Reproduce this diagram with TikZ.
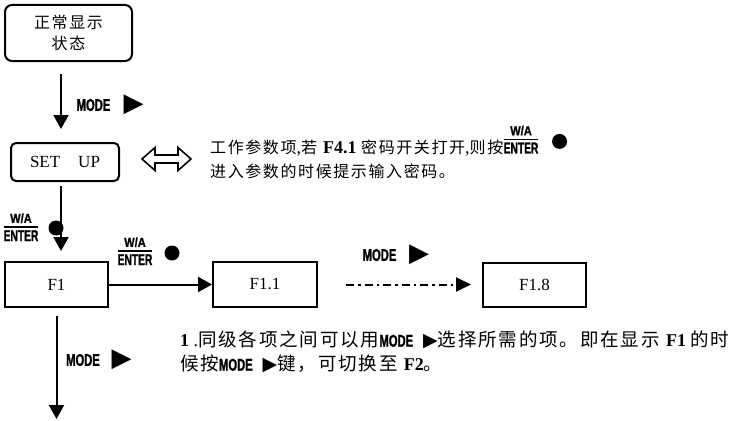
\documentclass[tikz,border=0pt]{standalone}
\usepackage{fontspec}
\setmainfont{Liberation Serif}
\newfontfamily\cjk[LetterSpace=10]{Noto Sans CJK SC}
\newfontfamily\keyfont[FakeStretch=0.66,FakeBold=1.2]{Liberation Sans}
\newfontfamily\keyfontb[FakeStretch=0.85,FakeBold=1.2]{Liberation Sans}
\newfontfamily\symfont{DejaVu Sans}
\usetikzlibrary{arrows.meta,calc}
\newcommand\modeword{{\keyfont\bfseries\fontsize{17}{17}\selectfont MODE}}
\newcommand\tri[1]{{\symfont\fontsize{#1}{#1}\selectfont ▶}}
\newcommand\modekey{\modeword\hspace{10pt}\tri{19}}
\newcommand\lat[1]{{\rmfamily\fontsize{18}{20}\selectfont #1}}
\newcommand\waenter{{\setlength\arrayrulewidth{1.6pt}\setlength\tabcolsep{0pt}%
  \begin{tabular}[b]{c}{\keyfontb\bfseries\fontsize{13}{12}\selectfont W/A}\\\hline
  \rule{0pt}{13pt}{\keyfont\bfseries\fontsize{15.5}{12}\selectfont ENTER}\end{tabular}}}
\begin{document}
\begin{tikzpicture}[x=1pt,y=-1pt,
  box/.style={draw,line width=2pt,inner sep=0pt,font=\fontsize{17}{17}\selectfont},
  rbox/.style={box,rounded corners=7pt},
  arr/.style={line width=2pt,-{Triangle[length=14pt,width=15pt]}},
  keylbl/.style={inner sep=0pt},
  dot/.style={circle,fill=black,inner sep=0pt,minimum size=15pt},
  txt/.style={inner sep=0pt,anchor=west}
]
\useasboundingbox (0,0) rectangle (738,420);
% boxes
\node[rbox,minimum width=127pt,minimum height=56pt,align=center,
  font=\cjk\fontsize{16}{21}\selectfont] (top) at (68.5,33) {正常显示\\状态};
\node[rbox,rounded corners=5pt,minimum width=108pt,minimum height=38pt] (setup) at (65,162)
  {SET\hspace{18pt}UP\hspace{11pt}};
\node[box,minimum width=103pt,minimum height=45pt] (f1) at (56.5,284.5) {F1};
\node[box,minimum width=104pt,minimum height=45pt] (f11) at (265,284.5) {F1.1};
\node[box,minimum width=103pt,minimum height=44pt] (f18) at (534.5,284.5) {F1.8};
% connectors
\coordinate (xa) at (61,0);
\coordinate (bot) at (56.5,419);
\draw[arr] ($(top.south -| xa)+(0,12)$) -- ($(setup.north -| xa)+(0,-13)$);
\draw[arr] ($(setup.south -| xa)+(0,4)$) -- ($(f1.north -| xa)+(0,-10)$);
\draw[arr] (f1.east) -- (f11.west);
\draw[line width=2pt,dash pattern=on 8pt off 4pt on 2.5pt off 4pt,
  -{Triangle[length=15pt,width=14pt]}] ($(f11.east)+(28,0)$) -- ($(f18.west)+(-11,0)$);
\draw[arr] ($(f1.south)+(0,8)$) -- (bot);
% double arrow
\draw[line width=1.6pt,fill=white] (142,159) -- (155,147.5) -- (155,155) -- (178,155)
  -- (178,147.5) -- (191,159) -- (178,170.5) -- (178,163) -- (155,163) -- (155,170.5) -- cycle;
% MODE labels
\node[keylbl] (m1) at (93.5,105) {\modeword};
\node[keylbl] (t1) at (133.5,105) {\tri{26}};
\node[keylbl] (m2) at (379.5,255) {\modeword};
\node[keylbl] (t2) at (419,255) {\tri{26}};
\node[keylbl] (m3) at (83,360) {\modeword};
\node[keylbl] (t3) at (121.5,360) {\tri{26}};
% W/A ENTER labels and dots
\node[keylbl] (wa1) at (21,229) {\waenter};
\node[dot] (o1) at (56,228) {};
\node[keylbl] (wa2) at (135,253) {\waenter};
\node[dot] (o2) at (172,253) {};
% texts
\node[txt,font=\cjk\fontsize{16}{20}\selectfont] (d1) at (210,148)
  {工作参数项\lat{,}若\lat{ \textbf{F4.1} }密码开关打开\lat{,}则按};
\node[txt,font=\cjk\fontsize{16}{20}\selectfont] (d2) at (210,171) {进入参数的时候提示输入密码。};
\node[keylbl,anchor=base west] (wa3) at (d1.base east) {\waenter};
\node[dot] (o3) at ($(wa3.east)+(21,0)$) {};
\node[txt,font=\cjk\fontsize{18.5}{22}\selectfont] (b1) at (180,340)
  {\lat{\textbf{1} .}同级各项之间可以用\modekey 选择所需的项。即在显示\lat{ \textbf{F1} }的时};
\node[txt,font=\cjk\fontsize{18.5}{22}\selectfont] (b2) at (180,364)
  {候按\modekey 键，可切换至\lat{ \textbf{F2}}。};
\end{tikzpicture}
\end{document}
